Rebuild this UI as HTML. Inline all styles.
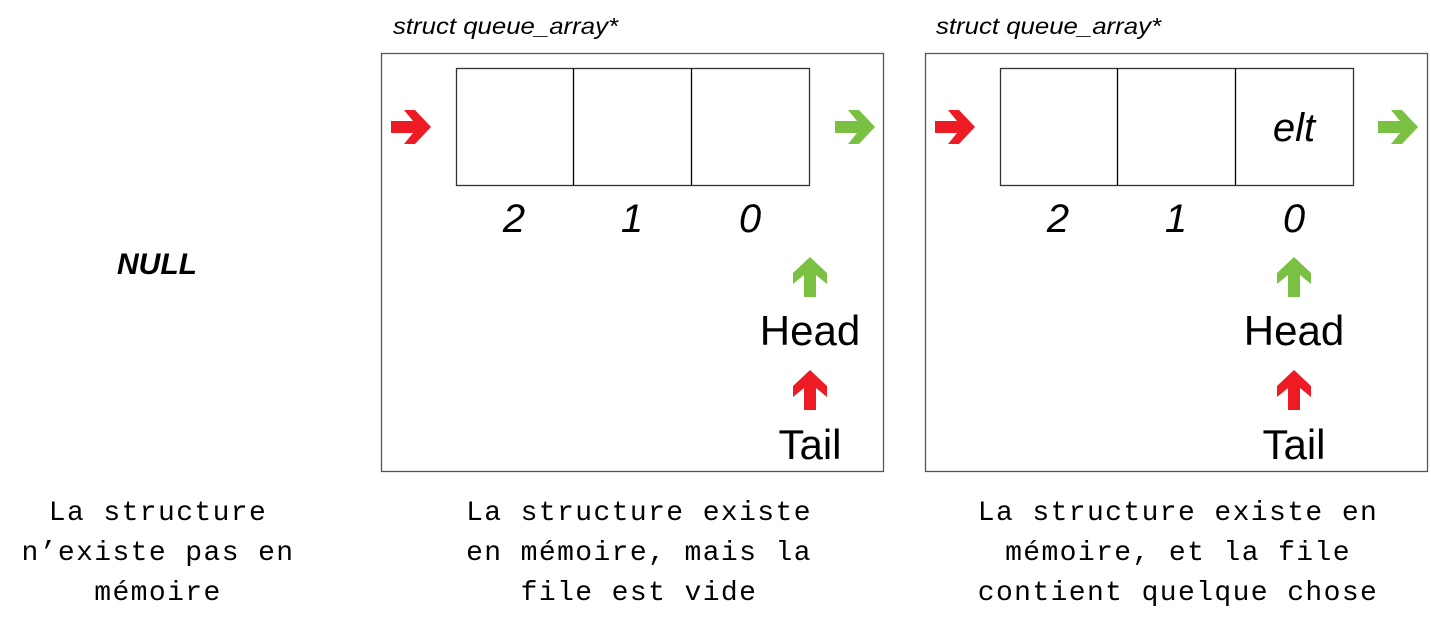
<!DOCTYPE html>
<html><head><meta charset="utf-8"><style>
html,body{margin:0;padding:0;background:#fff;}
svg{display:block}
.mono{font-family:"Liberation Mono",monospace;font-size:28px;letter-spacing:1.4px;fill:#000}
.it{font-family:"Liberation Sans",sans-serif;font-style:italic;fill:#000}
.nm{font-family:"Liberation Sans",sans-serif;fill:#000}
</style></head><body>
<svg width="1431" height="627" viewBox="0 0 1431 627" xmlns="http://www.w3.org/2000/svg">
<defs>
<polygon id="ar" points="-20,-6 2,-6 -7,-17 4,-17 20,0 4,17 -7,17 2,6 -20,6"/>
</defs>
<text x="157" y="274" text-anchor="middle" font-family="Liberation Sans, sans-serif" font-weight="bold" font-style="italic" font-size="30">NULL</text>

<g id="p1">
<text class="it" x="393" y="34" font-size="23" textLength="225" lengthAdjust="spacingAndGlyphs">struct queue_array*</text>
<rect x="381.5" y="53.5" width="502" height="418" fill="none" stroke="#555" stroke-width="1.3"/>
<rect x="456.5" y="68.5" width="353" height="117" fill="none" stroke="#333" stroke-width="1.3"/>
<line x1="573.5" y1="68" x2="573.5" y2="185" stroke="#000" stroke-width="1.3"/>
<line x1="691.5" y1="68" x2="691.5" y2="185" stroke="#000" stroke-width="1.3"/>
<text class="it" x="514" y="232" font-size="40" text-anchor="middle">2</text>
<text class="it" x="632" y="232" font-size="40" text-anchor="middle">1</text>
<text class="it" x="750" y="232" font-size="40" text-anchor="middle">0</text>
<use href="#ar" x="411" y="127" fill="#ed1c24"/>
<use href="#ar" x="855" y="127" fill="#7ac143"/>
<use href="#ar" transform="translate(810,277) rotate(-90)" fill="#7ac143"/>
<use href="#ar" transform="translate(810,390) rotate(-90)" fill="#ed1c24"/>
<text class="nm" x="810" y="345" font-size="42" text-anchor="middle">Head</text>
<text class="nm" x="810" y="459" font-size="42" text-anchor="middle">Tail</text>
</g>

<g id="p2">
<text class="it" x="936" y="34" font-size="23" textLength="225" lengthAdjust="spacingAndGlyphs">struct queue_array*</text>
<rect x="925.5" y="53.5" width="502" height="418" fill="none" stroke="#555" stroke-width="1.3"/>
<rect x="1000.5" y="68.5" width="353" height="117" fill="none" stroke="#333" stroke-width="1.3"/>
<line x1="1117.5" y1="68" x2="1117.5" y2="185" stroke="#000" stroke-width="1.3"/>
<line x1="1235.5" y1="68" x2="1235.5" y2="185" stroke="#000" stroke-width="1.3"/>
<text class="it" x="1294" y="141" font-size="40" text-anchor="middle">elt</text>
<text class="it" x="1058" y="232" font-size="40" text-anchor="middle">2</text>
<text class="it" x="1176" y="232" font-size="40" text-anchor="middle">1</text>
<text class="it" x="1294" y="232" font-size="40" text-anchor="middle">0</text>
<use href="#ar" x="955" y="127" fill="#ed1c24"/>
<use href="#ar" x="1398" y="127" fill="#7ac143"/>
<use href="#ar" transform="translate(1294,277) rotate(-90)" fill="#7ac143"/>
<use href="#ar" transform="translate(1294,390) rotate(-90)" fill="#ed1c24"/>
<text class="nm" x="1294" y="345" font-size="42" text-anchor="middle">Head</text>
<text class="nm" x="1294" y="459" font-size="42" text-anchor="middle">Tail</text>
</g>

<g class="mono" text-anchor="middle">
<text class="mono" x="158" y="520">La structure</text>
<text class="mono" x="158" y="560">n’existe pas en</text>
<text class="mono" x="158" y="600">mémoire</text>
<text class="mono" x="639" y="520">La structure existe</text>
<text class="mono" x="639" y="560">en mémoire, mais la</text>
<text class="mono" x="639" y="600">file est vide</text>
<text class="mono" x="1178" y="520">La structure existe en</text>
<text class="mono" x="1178" y="560">mémoire, et la file</text>
<text class="mono" x="1178" y="600">contient quelque chose</text>
</g>
</svg>
</body></html>
